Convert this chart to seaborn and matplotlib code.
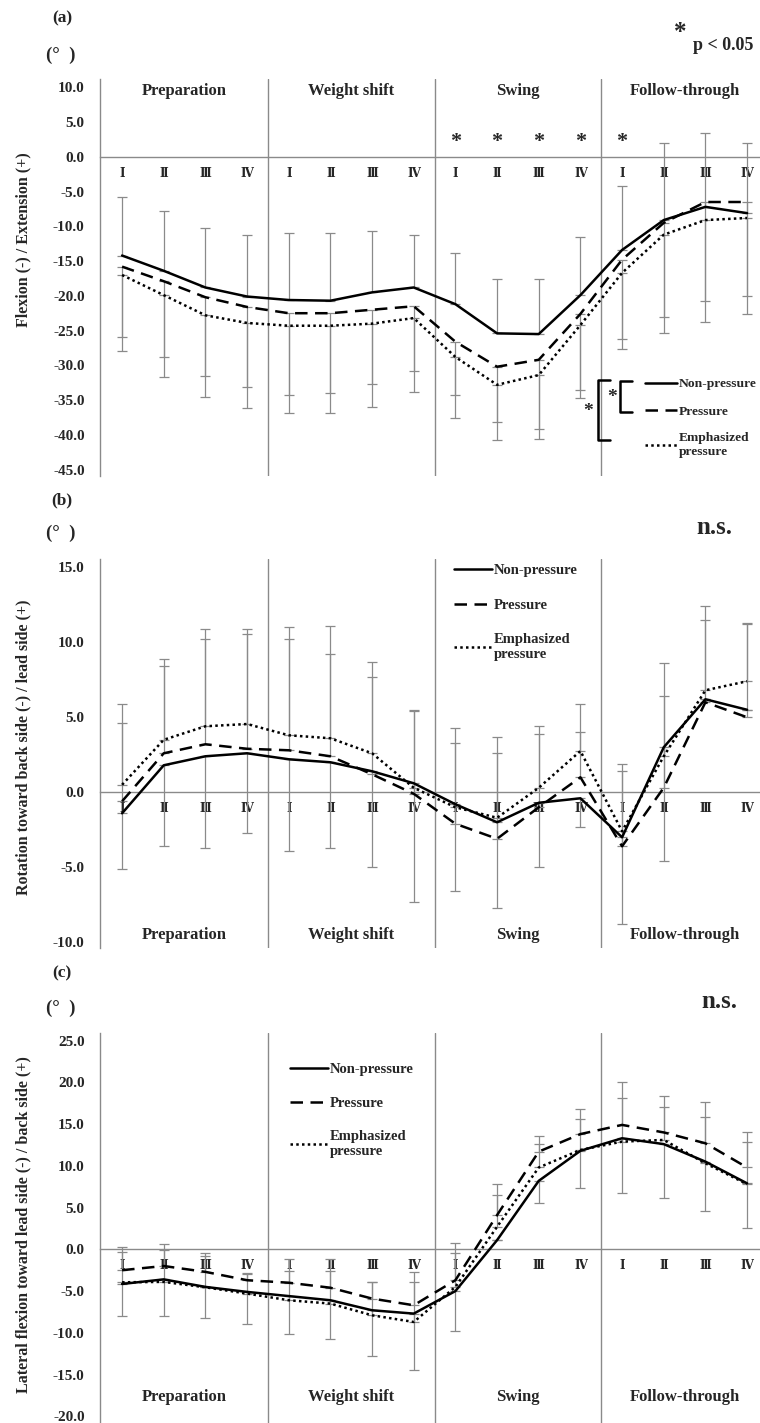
import numpy as np
import pandas as pd
import seaborn as sns
import matplotlib.pyplot as plt
from matplotlib.lines import Line2D

# categories
phases = ["Preparation", "Weight shift", "Swing", "Follow-through"]
subphases = ["Ⅰ", "Ⅱ", "Ⅲ", "Ⅳ"]
conditions = ["Non-pressure", "Pressure", "Emphasized\npressure"]

# (a) flexion (-) / extension (+), mean and SD
flex_np = [-14.2, -16.4, -18.8, -20.1, -20.6, -20.7, -19.5, -18.8, -21.2, -25.4, -25.5, -19.9, -13.4, -9.1, -7.2, -8.1]
flex_p = [-15.8, -17.9, -20.2, -21.6, -22.5, -22.5, -22.0, -21.5, -26.6, -30.2, -29.2, -22.6, -14.8, -9.5, -6.5, -6.5]
flex_e = [-17.0, -19.9, -22.8, -23.9, -24.3, -24.3, -24.0, -23.2, -28.8, -32.8, -31.4, -24.2, -16.7, -11.2, -9.1, -8.8]
flex_np_sd = [8.4, 8.6, 8.6, 8.8, 9.7, 9.8, 8.9, 7.5, 7.4, 7.8, 7.9, 8.3, 9.2, 11.1, 10.6, 10.1]
flex_p_sd = [10.1, 10.9, 11.3, 11.5, 11.7, 11.5, 10.7, 9.3, 7.6, 7.9, 9.9, 10.9, 11.4, 13.5, 14.3, 13.5]
flex_e_sd = [10.9, 11.8, 11.7, 12.3, 12.5, 12.6, 12.0, 10.6, 8.8, 8.0, 9.2, 10.5, 11.0, 14.1, 14.6, 13.8]
flex_sig = [8, 9, 10, 11, 12]

# (b) rotation toward back side (-) / lead side (+)
rot_np = [-1.4, 1.8, 2.4, 2.6, 2.2, 2.0, 1.4, 0.6, -0.8, -2.0, -0.7, -0.4, -3.0, 3.0, 6.2, 5.5]
rot_p = [-0.6, 2.6, 3.2, 2.9, 2.8, 2.4, 1.2, -0.1, -2.1, -3.1, -1.0, 1.0, -3.6, 0.3, 6.0, 5.0]
rot_e = [0.5, 3.5, 4.4, 4.55, 3.8, 3.6, 2.6, 0.3, -1.0, -1.7, 0.3, 2.75, -2.6, 2.4, 6.8, 7.4]
rot_np_sd = [3.7, 5.4, 6.1, 5.3, 6.1, 5.7, 6.4, 7.9, 5.8, 5.7, 4.3, 1.9, 5.8, 7.6, np.nan, np.nan]
rot_p_sd = [6.5, 6.3, 7.7, 8.0, 8.2, 8.7, 7.5, 5.6, 6.4, 6.8, 5.4, 4.9, 5.5, 8.3, 6.4, 6.3]
rot_e_sd = [4.1, 4.9, 5.8, 6.0, 6.4, 5.6, 5.1, 5.1, 4.3, 4.3, 3.6, 1.3, 4.0, 4.0, 4.7, 3.8]

# (c) lateral flexion toward lead side (-) / back side (+)
lat_np = [-4.15, -3.6, -4.5, -5.1, -5.6, -6.1, -7.3, -7.7, -5.0, 1.1, 8.2, 11.8, 13.3, 12.6, 10.5, 7.9]
lat_p = [-2.5, -2.0, -2.7, -3.7, -4.0, -4.6, -5.9, -6.7, -3.7, 4.1, 11.7, 13.8, 14.9, 14.0, 12.7, 9.8]
lat_e = [-3.95, -3.9, -4.55, -5.3, -6.1, -6.5, -7.9, -8.7, -4.5, 2.7, 9.8, 11.9, 12.9, 13.1, 10.3, 7.8]
lat_np_sd = [3.8, 4.4, 3.7, 3.8, 4.5, 4.6, 5.5, 6.8, 4.8, np.nan, 2.7, 4.4, 6.6, 6.4, 5.9, 5.3]
lat_p_sd = [2.8, 2.6, 2.2, 0.9, 2.9, 3.5, 2.0, 4.0, 4.4, 3.7, 1.9, 3.0, 5.1, 4.4, 4.9, 4.3]
lat_e_sd = [3.6, 3.8, 3.8, 2.4, 3.5, 3.9, 4.0, 4.8, 4.0, 3.8, 2.8, 3.7, 5.2, 4.0, 5.5, 5.1]

GRAY = "#8a8a8a"
DASHES = {"Non-pressure": "", "Pressure": (5, 3), "Emphasized\npressure": (1, 1.3)}
W, H = 760, 1423

sns.set_style("white")
plt.rcParams["font.family"] = ["Liberation Serif", "DejaVu Serif"]
plt.rcParams["font.weight"] = "bold"


def fx(px):
    return px / W


def fy(py):
    return 1 - py / H


fig = plt.figure(figsize=(W / 100, H / 100), dpi=100)


def draw_panel(rect, means, sds, dirs, ylim, yticks, phase_y, leg_xy, leg_len, leg_space, leg_size):
    ax = fig.add_axes(rect)
    x = np.arange(16)
    # one-sided SD bars, as in the original spreadsheet chart
    for m, sd, d in zip(means, sds, dirs):
        sd = np.nan_to_num(np.array(sd, dtype=float))
        zero = np.zeros(16)
        err = [sd, zero] if d < 0 else [zero, sd]
        ax.errorbar(x, m, yerr=err, fmt="none", ecolor=GRAY, elinewidth=0.9,
                    capsize=3.5, capthick=0.9, zorder=2)
    df = pd.DataFrame({
        "x": np.tile(x, 3),
        "value": np.concatenate(means),
        "condition": np.repeat(conditions, 16),
    })
    sns.lineplot(data=df, x="x", y="value", style="condition", style_order=conditions,
                 dashes=DASHES, color="black", linewidth=1.8, ax=ax, zorder=3)

    ax.set_xlim(-0.53, 15.31)
    ax.set_ylim(ylim)
    ax.set_yticks(yticks)
    ax.set_yticklabels([f"{t:.1f}" for t in yticks])
    ax.set_xticks(x)
    ax.set_xticklabels(subphases * 4)
    ax.set_xlabel("")
    ax.set_ylabel("")
    ax.spines[["top", "right"]].set_visible(False)
    ax.spines["bottom"].set_position(("data", 0))
    for s in ("bottom", "left"):
        ax.spines[s].set_color(GRAY)
        ax.spines[s].set_linewidth(1.0)
    for b in (3.5, 7.5, 11.5):
        ax.axvline(b, color=GRAY, lw=1.0, zorder=1)
    ax.tick_params(axis="both", length=0)
    ax.tick_params(axis="y", pad=11, labelsize=11)
    ax.tick_params(axis="x", pad=8, labelsize=8.5)
    for i, ph in enumerate(phases):
        ax.text(4 * i + 1.5, phase_y, ph, ha="center", va="center", fontsize=12)

    handles, labels = ax.get_legend_handles_labels()
    ax.legend(handles, labels, loc="upper left", bbox_to_anchor=(fx(leg_xy[0]), fy(leg_xy[1])),
              bbox_transform=fig.transFigure, frameon=False, fontsize=leg_size,
              handlelength=leg_len, handletextpad=0.12, labelspacing=leg_space,
              borderpad=0, borderaxespad=0)
    return ax


ax_a = draw_panel([fx(100), fy(476), fx(660), (476 - 78.7) / H],
                  [flex_np, flex_p, flex_e], [flex_np_sd, flex_p_sd, flex_e_sd], [1, -1, -1],
                  (-45.92, 11.24), np.arange(-45, 10.1, 5), 9.4, (645, 378), 2.4, 1.1, 9.7)
ax_b = draw_panel([fx(100), fy(948), fx(660), (948 - 559.3) / H],
                  [rot_np, rot_p, rot_e], [rot_np_sd, rot_p_sd, rot_e_sd], [-1, 1, 1],
                  (-10.38, 15.53), np.arange(-10, 15.1, 5), -9.5, (454, 564), 2.6, 1.47, 10.5)
ax_c = draw_panel([fx(100), fy(1423), fx(660), (1423 - 1033.3) / H],
                  [lat_np, lat_p, lat_e], [lat_np_sd, lat_p_sd, lat_e_sd], [-1, 1, 1],
                  (-20.8, 25.87), np.arange(-20, 25.1, 5), -17.65, (290, 1063), 2.6, 1.4, 10.5)

# significance marks in (a)
for i in flex_sig:
    ax_a.text(i, 2.2, "*", ha="center", va="center", fontsize=16)

# axis titles
ylabels = [("Flexion (-) / Extension (+)", 240),
           ("Rotation toward back side (-) / lead side (+)", 747),
           ("Lateral flexion toward lead side (-) / back side (+)", 1225)]
for txt, cy in ylabels:
    fig.text(fx(23), fy(cy), txt, rotation=90, ha="center", va="center", fontsize=11.5)

for lab, ly, dy in [("(a)", 18, 55), ("(b)", 500, 533), ("(c)", 973, 1008)]:
    fig.text(fx(62), fy(ly), lab, ha="center", va="center", fontsize=12.5)
    fig.text(fx(61), fy(dy), "(°  )", ha="center", va="center", fontsize=13.5)

fig.text(fx(680), fy(33), "*", ha="center", va="center", fontsize=18)
fig.text(fx(693), fy(45), "p < 0.05", ha="left", va="center", fontsize=13)
fig.text(fx(714), fy(527), "n.s.", ha="center", va="center", fontsize=18)
fig.text(fx(719), fy(1002), "n.s.", ha="center", va="center", fontsize=18)

# brackets between conditions in (a)
def bracket(x0, x1, y0, y1):
    xs = [fx(x1), fx(x0), fx(x0), fx(x1)]
    ys = [fy(y0), fy(y0), fy(y1), fy(y1)]
    fig.add_artist(Line2D(xs, ys, color="black", lw=1.8, transform=fig.transFigure))


bracket(620, 632, 381, 412)
bracket(598, 610, 380, 440)
fig.text(fx(612), fy(397), "*", ha="center", va="center", fontsize=14)
fig.text(fx(588), fy(411), "*", ha="center", va="center", fontsize=14)

plt.savefig("out.png", dpi=100)
